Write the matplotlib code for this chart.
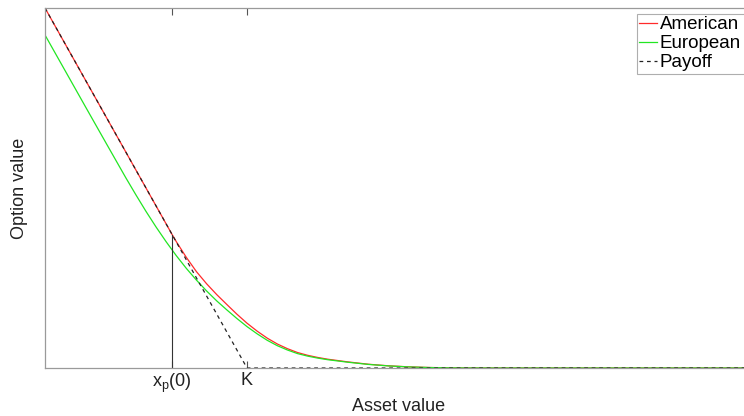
import numpy as np
import matplotlib
matplotlib.use("Agg")
from matplotlib import pyplot as plt

plt.rcParams['font.family'] = ['Liberation Sans', 'DejaVu Sans']

# strike and early exercise boundary (asset value units)
K = 100.0
x_p0 = 63.0

# American put value
s_am = [0, 63, 65, 70, 75, 80, 85, 90, 95, 100, 105, 110, 115, 120, 125,
        130, 135, 140, 150, 160, 170, 180, 190, 200, 210, 220, 350]
v_am = [100.0, 37.0, 35.1, 30.7, 26.75, 23.4, 20.4, 17.65, 14.95, 12.45,
        10.25, 8.3, 6.67, 5.37, 4.3, 3.53, 2.93, 2.44, 1.69, 1.05, 0.61,
        0.32, 0.14, 0.04, 0.01, 0.0, 0.0]

# European put value
s_eu = [0, 10, 20, 30, 40, 45, 50, 55, 60, 65, 70, 75, 80, 85, 90, 95, 100,
        105, 110, 115, 120, 125, 130, 135, 140, 150, 160, 170, 180, 190,
        200, 210, 220, 350]
v_eu = [92.5, 82.55, 72.6, 62.7, 52.85, 48.1, 43.5, 39.15, 35.05, 31.2,
        27.65, 24.4, 21.4, 18.65, 16.15, 13.75, 11.5, 9.5, 7.7, 6.2, 5.0,
        4.0, 3.3, 2.75, 2.3, 1.6, 1.0, 0.58, 0.3, 0.13, 0.04, 0.01, 0.0, 0.0]

# payoff max(K - S, 0)
s_pay = [0, 100, 350]
v_pay = [100, 0, 0]

fig = plt.figure(figsize=(7.44, 4.16), dpi=100)
ax = fig.add_axes([45/744, 48/416, 707/744, 360/416])

ax.plot(s_am, v_am, color='#ff2a2a', lw=0.9, label='American')
ax.plot(s_eu, v_eu, color='#22e622', lw=0.9, label='European')
ax.plot(s_pay, v_pay, color='#222222', lw=0.9, ls=(0, (3, 3)), label='Payoff')
ax.plot([x_p0, x_p0], [0, np.interp(x_p0, s_am, v_am)], color='#333333', lw=0.8)

ax.set_xlim(0, 350)
ax.set_ylim(0, 100)

for side in ['top', 'bottom', 'left', 'right']:
    ax.spines[side].set_color('#9a9a9a')
    ax.spines[side].set_linewidth(0.9)

ax.set_xticks([x_p0, K])
ax.set_xticklabels([r'$\mathregular{x_p(0)}$', 'K'], fontsize=13, color='#222222')
ax.set_yticks([])
ax.tick_params(axis='x', direction='in', top=True, length=5, width=0.8,
               color='#555555', pad=3)

ax.set_xlabel('Asset value', fontsize=13, color='#222222', labelpad=2)
ax.set_ylabel('Option value', fontsize=13, color='#222222', labelpad=12)

# legend box runs past the right edge of the figure
leg = fig.legend(loc='upper left',
                 bbox_to_anchor=(637/744, 1 - 14/416 - 0.01, 125/744, 0.01),
                 mode='expand', fontsize=13.5, frameon=True, fancybox=False,
                 borderaxespad=0, handlelength=0.95, handletextpad=0.15,
                 labelspacing=0.1, borderpad=0.12)
leg.get_frame().set_edgecolor('#9a9a9a')
leg.get_frame().set_linewidth(0.8)

plt.savefig('out.png', dpi=100)
